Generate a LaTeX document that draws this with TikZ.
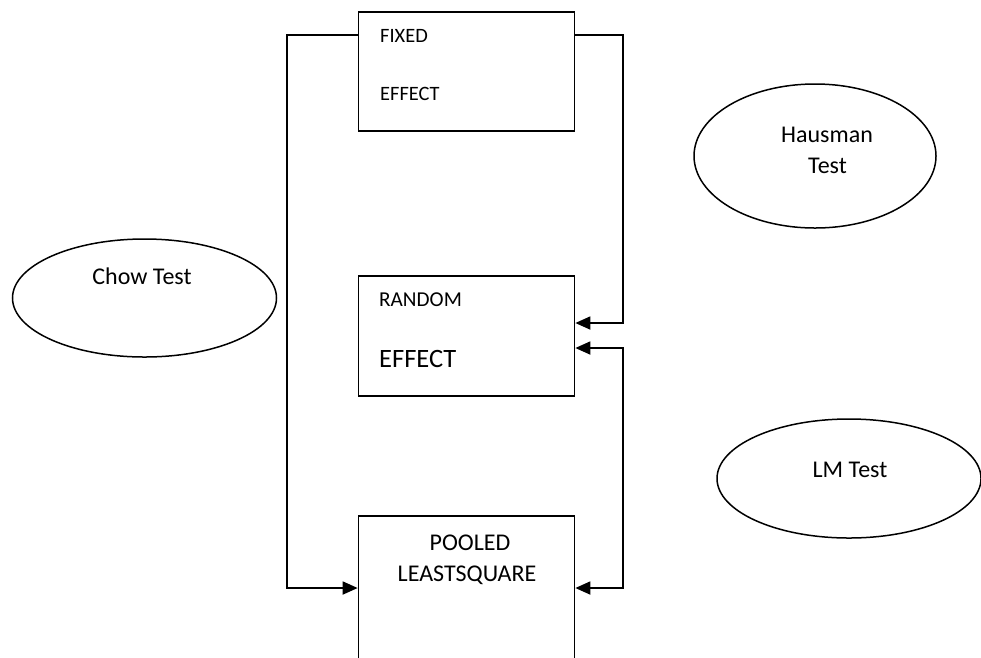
\documentclass[tikz,border=0pt]{standalone}
\usepackage{fontspec}
\setmainfont{Carlito}
\usetikzlibrary{arrows.meta,shapes.geometric}
\begin{document}
\begin{tikzpicture}[x=1pt,y=-1pt,
  box/.style={draw=black,line width=1.7pt,inner sep=0pt,minimum width=216pt,rectangle},
  oval/.style={draw=black,line width=1.5pt,ellipse,inner sep=0pt},
  conn/.style={line width=1.8pt,draw=black},
  tip/.style={-{Triangle[length=15pt,width=13pt]}},
  small/.style={font=\fontsize{20.4}{24}\selectfont,inner sep=0pt},
  mid/.style={font=\fontsize{24}{28}\selectfont,inner sep=0pt},
  big/.style={font=\fontsize{26.5}{31}\selectfont,inner sep=0pt}]
\clip (0,0) rectangle (981,657);
\fill[white] (0,0) rectangle (981,657);
% boxes
\node[box,minimum height=119pt] (fixed) at (466.5,71.5) {};
\node[box,minimum height=120pt] (random) at (466.5,336) {};
\node[box,minimum height=190pt] (pooled) at (466.5,611) {};
% box texts
\node[small,anchor=base west] (t1) at (380,42.7) {FIXED};
\node[small,anchor=base west] (t2) at (380,100) {EFFECT};
\node[small,font=\fontsize{21.2}{25}\selectfont,anchor=base west] (t3) at (379,306.7) {RANDOM};
\node[big,anchor=base west] (t4) at (379,367.3) {EFFECT};
\node[mid,anchor=base] (t5) at (470,550) {POOLED};
\node[mid,anchor=base] (t6) at (467,581.7) {LEASTSQUARE};
% ellipses
\node[oval,minimum width=264pt,minimum height=118pt] (chow) at (144.5,298) {};
\node[oval,minimum width=242pt,minimum height=144pt] (haus) at (815,156) {};
\node[oval,minimum width=264pt,minimum height=119pt] (lm) at (849,478.5) {};
\node[mid,anchor=base] (c1) at (142,284) {Chow Test};
\node[mid,anchor=base] (h1) at (827,142) {Hausman};
\node[mid,anchor=base] (h2) at (827.5,173) {Test};
\node[mid,anchor=base] (l1) at (850,477) {LM Test};
% routing coordinates
\coordinate (fy) at (0,35);
\coordinate (py) at (0,588);
\coordinate (ry1) at (0,323);
\coordinate (ry2) at (0,348);
\coordinate (lx) at (287,0);
\coordinate (rx) at (623,0);
% connectors
\draw[conn,tip] (fixed.west |- fy) -- (lx |- fy) -- (lx |- py) -- (pooled.west |- py);
\draw[conn,tip] (fixed.east |- fy) -- (rx |- fy) -- (rx |- ry1) -- (random.east |- ry1);
\draw[conn,{Triangle[length=15pt,width=13pt]}-{Triangle[length=15pt,width=13pt]}] (random.east |- ry2) -- (rx |- ry2) -- (rx |- py) -- (pooled.east |- py);
\end{tikzpicture}
\end{document}
